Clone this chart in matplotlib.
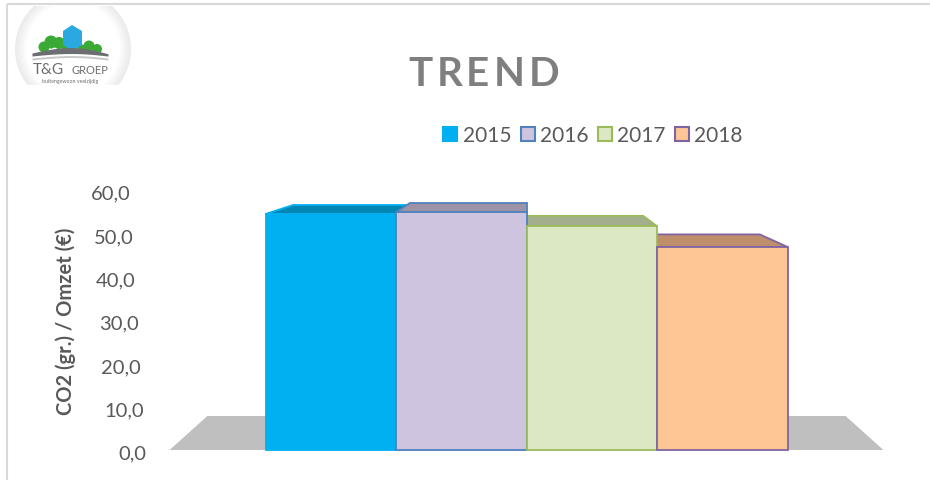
import matplotlib
matplotlib.use("Agg")
import matplotlib.pyplot as plt
from matplotlib.patches import Polygon, Rectangle, Circle, Patch
from matplotlib.transforms import blended_transform_factory, ScaledTranslation
import numpy as np

plt.rcParams['font.family'] = ['Lato', 'DejaVu Sans']

# ---------------- data ----------------
years = ['2015', '2016', '2017', '2018']
values = [54.5, 55.0, 51.7, 46.9]
yticks = [0, 10, 20, 30, 40, 50, 60]
ytick_labels = ['0,0', '10,0', '20,0', '30,0', '40,0', '50,0', '60,0']
title = 'TREND'
ylabel = 'CO2 (gr.) / Omzet (€)'

# ---------------- style ----------------
front_colors = ['#00B0F0', '#CEC4DF', '#DCE8C4', '#FDC695']
edge_colors = ['#00B0F0', '#4F81BD', '#9BBB59', '#8064A2']
top_colors = ['#0087B5', '#9E93A6', '#A2AE8D', '#BF8F6B']
floor_color = '#BFBFBF'
text_gray = '#595959'

W, H = 930, 481
fig = plt.figure(figsize=(W / 100, H / 100), dpi=100)

# decoration layer in pixel coordinates
deco = fig.add_axes([0, 0, 1, 1], zorder=0)
deco.set_xlim(0, W)
deco.set_ylim(H, 0)
deco.axis('off')

# main plot axes: pixel box x 150..915, y 150..470
ax_l, ax_r, ax_t, ax_b = 150, 915, 150, 470
ax = fig.add_axes([ax_l / W, (H - ax_b) / H, (ax_r - ax_l) / W, (ax_b - ax_t) / H], zorder=1)
ax.patch.set_visible(False)

# data <-> pixel mapping parameters
cx_px, bar_px = 526.5, 130.5
y0_px, unit_px = 451.0, 4.33
ax.set_xlim(1.5 + (ax_l - cx_px) / bar_px, 1.5 + (ax_r - cx_px) / bar_px)
ax.set_ylim((y0_px - ax_b) / unit_px, (y0_px - ax_t) / unit_px)
for s in ax.spines.values():
    s.set_visible(False)
ax.set_xticks([])
ax.set_yticks([])

# perspective: back points move toward vanishing point
K = 0.106
VX, VY = 1.5, (y0_px - 130) / unit_px


def back(x, y):
    return x + K * (VX - x), y + K * (VY - y)


# floor
fl, fr = -1.235, 4.235
floor = [(fl, 0), (fr, 0), back(fr, 0), back(fl, 0)]
ax.add_patch(Polygon(floor, closed=True, facecolor=floor_color, edgecolor='none', zorder=1))

xs = np.arange(len(values))
# tops (shorter bars first)
order = np.argsort(values)
for i in order:
    v = values[i]
    x0, x1 = xs[i] - 0.5, xs[i] + 0.5
    poly = [(x0, v), (x1, v), back(x1, v), back(x0, v)]
    ax.add_patch(Polygon(poly, closed=True, facecolor=top_colors[i],
                         edgecolor=edge_colors[i], lw=1.3, zorder=2 + 0.01 * v))

# fronts
for i in range(len(values)):
    ax.bar(xs[i], values[i], width=1.0, color=front_colors[i],
           edgecolor=edge_colors[i], linewidth=1.3, zorder=5)

# y tick labels with perspective skew
base_tr = blended_transform_factory(ax.transAxes, ax.transData)
for v, lab in zip(yticks, ytick_labels):
    dx = -4 - 15 * (v / 60.0)
    dy = -3
    tr = base_tr + ScaledTranslation(dx / 100, dy / 100, fig.dpi_scale_trans)
    ax.text(0, v, lab, transform=tr, ha='right', va='center',
            fontsize=14.5, color=text_gray)

# y label
deco.text(66, 321, ylabel, rotation=90, ha='center', va='center',
          fontsize=14.5, fontweight='bold', color=text_gray)

# legend
handles = [Patch(facecolor=front_colors[i], edgecolor=edge_colors[i], linewidth=1.5)
           for i in range(len(years))]
leg = fig.legend(handles, years, loc='center', bbox_to_anchor=(593 / W, 1 - 136 / H),
                 ncol=4, frameon=False, fontsize=15, handlelength=0.68, handleheight=0.68,
                 handletextpad=0.25, columnspacing=0.45, borderpad=0)
for t in leg.get_texts():
    t.set_color(text_gray)

# title with letter spacing
renderer = fig.canvas.get_renderer()
xpos = 408
for ch in title:
    t = deco.text(xpos, 75, ch, ha='left', va='center', fontsize=29,
                  fontweight='bold', color='#7F7F7F')
    bb = t.get_window_extent(renderer)
    xpos += bb.width + 4

# frame lines
deco.plot([7, 7], [5, H], color='#D9D9D9', lw=1.5, solid_capstyle='butt')
deco.plot([7, W], [5, 5], color='#D9D9D9', lw=1.5, solid_capstyle='butt')

# logo
clip = Rectangle((9, 7), 128, 79, transform=deco.transData)
deco.add_patch(Rectangle((9, 7), 128, 79, facecolor='white', edgecolor='none', zorder=2))
for r, c in zip(np.linspace(58, 47, 8), np.linspace(0.92, 1.0, 8)):
    circ = Circle((73, 50), r, facecolor=(c, c, c), edgecolor='none', zorder=2)
    deco.add_patch(circ)
    circ.set_clip_path(clip)
# bushes
for (cx, cy, r) in [(44, 48, 5.5), (51, 43, 6.5), (59, 44, 6), (66, 49, 4.5)]:
    p = Circle((cx, cy), r, facecolor='#3AAA35', edgecolor='none', zorder=3)
    deco.add_patch(p)
for (cx, cy, r) in [(82, 50, 4.5), (89, 47, 5.5), (97, 50, 5)]:
    p = Circle((cx, cy), r, facecolor='#3AAA35', edgecolor='none', zorder=3)
    deco.add_patch(p)
# shield
deco.add_patch(Polygon([(63, 32), (72, 26), (82, 32), (82, 46), (73, 52), (63, 46)],
                       closed=True, facecolor='#2AA9E0', edgecolor='none', zorder=4))
# swoosh
tt = np.linspace(0, 1, 30)
up_x = 32 + 76 * tt
up_y = 54 - 7 * np.sin(np.pi * tt * 0.9) + 3 * tt
lo_y = 57 - 3 * np.sin(np.pi * tt * 0.9) + 1 * tt
deco.fill_between(up_x, lo_y + 2, lo_y + 4, color='#C8C8C8', zorder=4, lw=0)
deco.fill_between(up_x, up_y, lo_y, color='#6D6E71', zorder=5, lw=0)
deco.text(33, 70, 'T&G', fontsize=11, color='#6D6E71', ha='left', va='center', zorder=6)
deco.text(71, 71, 'GROEP', fontsize=8, color='#6D6E71', ha='left', va='center', zorder=6)
deco.text(70, 81, 'buitengewoon veelzijdig', fontsize=3.8, color='#6D6E71',
          ha='center', va='center', zorder=6)

fig.savefig('out.png', dpi=100)
